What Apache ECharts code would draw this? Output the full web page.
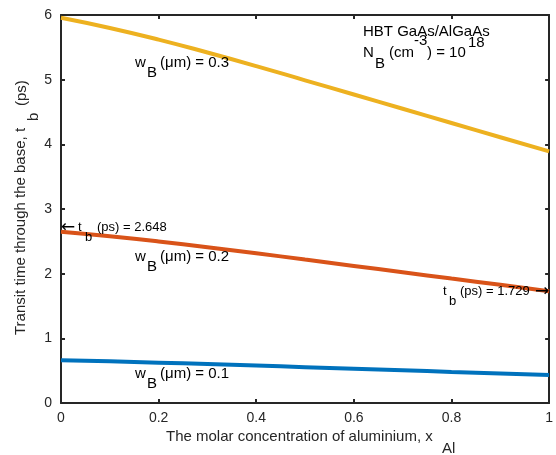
<!DOCTYPE html>
<html>
<head>
<meta charset="utf-8">
<script src="https://cdn.jsdelivr.net/npm/echarts@6/dist/echarts.min.js"></script>
<style>
html,body{margin:0;padding:0;background:#fff;}
#chart{width:556px;height:455px;}
</style>
</head>
<body>
<div id="chart"></div>
<script>
// Data
var xAl = [0, 0.1, 0.2, 0.3, 0.4, 0.5, 0.6, 0.7, 0.8, 0.9, 1.0];
var tb_w03 = [5.958, 5.80, 5.62, 5.42, 5.21, 4.99, 4.77, 4.55, 4.33, 4.11, 3.890];
var tb_w02 = [2.648, 2.578, 2.498, 2.409, 2.316, 2.218, 2.120, 2.022, 1.924, 1.827, 1.729];
var tb_w01 = [0.662, 0.644, 0.624, 0.602, 0.579, 0.554, 0.530, 0.506, 0.481, 0.457, 0.432];
var xTicks = [0, 0.2, 0.4, 0.6, 0.8, 1];
var yTicks = [0, 1, 2, 3, 4, 5, 6];

var FONT = '"Liberation Sans", Arial, Helvetica, sans-serif';
var ARROWFONT = '"DejaVu Sans", sans-serif';
var TXT = '#262626';

function pairs(ys) { return xAl.map(function (x, i) { return [x, ys[i]]; }); }

function t(text, x, y, size, opts) {
  opts = opts || {};
  return {
    type: 'text', x: x, y: y, rotation: opts.rot || 0, z: 100,
    style: {
      text: text, fill: opts.fill || TXT, fontSize: size, fontFamily: opts.font || FONT,
      textAlign: opts.align || 'left', textVerticalAlign: 'middle'
    }
  };
}

var R = Math.PI / 2;
var K = {fill: '#000'};
var A = {fill: '#000', font: ARROWFONT};
var graphics = [
  // top-right annotation
  t('HBT GaAs/AlGaAs', 363, 32, 15, K),
  t('N', 363, 53, 15, K),
  t('B', 375, 64, 15, K),
  t('(cm', 389, 53, 15, K),
  t('-3', 414, 41, 15, K),
  t(') = 10', 427, 53, 15, K),
  t('18', 468, 43, 15, K),
  // w_B labels
  t('w', 135, 63, 15, K), t('B', 147, 73, 15, K), t('(\u03bcm) = 0.3', 160, 63, 15, K),
  t('w', 135, 257, 15, K), t('B', 147, 267, 15, K), t('(\u03bcm) = 0.2', 160, 257, 15, K),
  t('w', 135, 374, 15, K), t('B', 147, 384, 15, K), t('(\u03bcm) = 0.1', 160, 374, 15, K),
  // t_b annotations
  t('\u2190', 61, 228, 17, A), t('t', 78, 227, 13, K), t('b', 85, 237, 13, K),
  t('(ps) = 2.648', 97, 227, 13, K),
  t('t', 443, 291, 13, K), t('b', 449, 301, 13, K),
  t('(ps) = 1.729', 460, 291, 13, K), t('\u2192', 535, 292, 17, A),
  // x axis name
  t('The molar concentration of aluminium, x', 166, 437, 15),
  t('Al', 442, 449, 15),
  // y axis name (rotated)
  t('Transit time through the base, t', 21, 335, 15, {rot: R}),
  t('b', 34, 121, 15, {rot: R}),
  t('(ps)', 22, 106, 15, {rot: R})
];

var axisLine = {show: true, onZero: false, lineStyle: {color: TXT, width: 2}};
var tickStyle = {show: true, inside: true, length: 4, lineStyle: {color: TXT, width: 2}};

function xLabel(v) { return String(Math.round(v * 10) / 10); }

var option = {
  animation: false,
  backgroundColor: '#fff',
  grid: {left: 61, right: 1, top: 15, bottom: 52, containLabel: false},
  xAxis: [
    {type: 'value', min: 0, max: 1, interval: 0.2, position: 'bottom',
     axisLine: axisLine, axisTick: tickStyle, splitLine: {show: false},
     axisLabel: {color: TXT, fontSize: 14, fontFamily: FONT, margin: 8, formatter: xLabel}},
    {type: 'value', min: 0, max: 1, interval: 0.2, position: 'top',
     axisLine: axisLine, axisTick: tickStyle, splitLine: {show: false}, axisLabel: {show: false}}
  ],
  yAxis: [
    {type: 'value', min: 0, max: 6, interval: 1, position: 'left',
     axisLine: axisLine, axisTick: tickStyle, splitLine: {show: false},
     axisLabel: {color: TXT, fontSize: 14, fontFamily: FONT, margin: 9}},
    {type: 'value', min: 0, max: 6, interval: 1, position: 'right',
     axisLine: axisLine, axisTick: tickStyle, splitLine: {show: false}, axisLabel: {show: false}}
  ],
  series: [
    {type: 'line', data: pairs(tb_w03), showSymbol: false, smooth: true, lineStyle: {color: '#EDB120', width: 4}, z: 3},
    {type: 'line', data: pairs(tb_w02), showSymbol: false, smooth: true, lineStyle: {color: '#D95319', width: 4}, z: 3},
    {type: 'line', data: pairs(tb_w01), showSymbol: false, smooth: true, lineStyle: {color: '#0072BD', width: 4}, z: 3}
  ],
  graphic: graphics
};

var chart = echarts.init(document.getElementById('chart'), null, {renderer: 'canvas'});
chart.setOption(option);
</script>
</body>
</html>
